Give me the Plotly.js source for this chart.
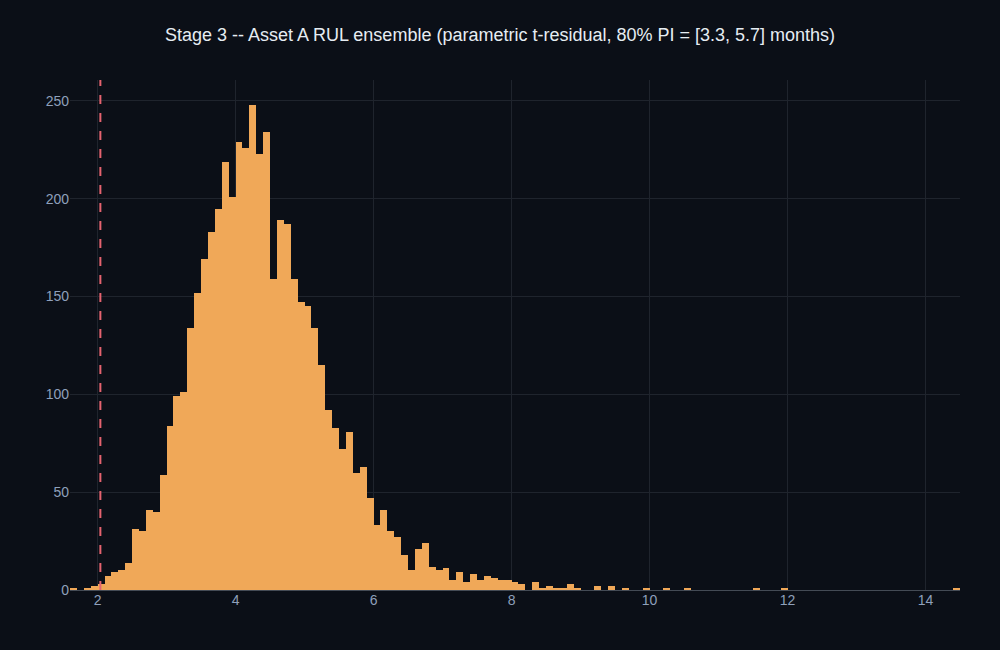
<!DOCTYPE html>
<html>
<head>
<meta charset="utf-8">
<script src="https://cdn.plot.ly/plotly-3.0.1.min.js"></script>
<style>
  html, body { margin: 0; padding: 0; background: #0b0f17; }
  #myDiv { width: 1000px; height: 650px; }
</style>
</head>
<body>
<div id="myDiv"></div>
<script>
// histogram counts, bins of 0.1 months starting at 1.6
var binStart = 1.6;
var binWidth = 0.1;
var counts = [
  1, 0, 1, 2, 3, 7, 9, 10, 14, 31,
  30, 41, 40, 59, 84, 99, 101, 134, 152, 169,
  183, 195, 219, 201, 229, 226, 248, 223, 234, 159,
  189, 187, 159, 147, 145, 134, 115, 92, 83, 72,
  81, 60, 63, 47, 33, 41, 30, 27, 18, 10,
  21, 24, 12, 10, 11, 5, 9, 4, 8, 5,
  7, 6, 5, 5, 4, 3, 0, 4, 1, 2,
  1, 1, 3, 1, 0, 0, 2, 0, 2, 0,
  1, 0, 0, 1
];
// sparse far tail (left edge of bin, count)
var tailBins = [10.2, 10.5, 11.5, 11.9, 14.4];
var tailCounts = [1, 1, 1, 1, 1];

var thresholdX = 2.04;

var x = [];
var y = [];
for (var i = 0; i < counts.length; i++) {
  x.push(binStart + i * binWidth + binWidth / 2);
  y.push(counts[i]);
}
for (var j = 0; j < tailBins.length; j++) {
  x.push(tailBins[j] + binWidth / 2);
  y.push(tailCounts[j]);
}

var trace = {
  x: x,
  y: y,
  type: 'bar',
  width: binWidth,
  marker: {
    color: '#f0a858',
    line: {width: 0}
  },
  hoverinfo: 'x+y'
};

var layout = {
  width: 1000,
  height: 650,
  paper_bgcolor: '#0b0f17',
  plot_bgcolor: '#0b0f17',
  font: {family: 'Liberation Sans, Arial, sans-serif', color: '#8fa0bb', size: 14},
  title: {
    text: 'Stage 3 -- Asset A RUL ensemble (parametric t-residual, 80% PI = [3.3, 5.7] months)',
    font: {size: 18, color: '#e6edf3'},
    x: 0.5,
    xanchor: 'center',
    y: 0.947,
    yanchor: 'middle'
  },
  margin: {l: 70, r: 40, t: 80, b: 60},
  showlegend: false,
  bargap: 0,
  xaxis: {
    range: [1.6, 14.5],
    tickvals: [2, 4, 6, 8, 10, 12, 14],
    gridcolor: '#1f242d',
    zeroline: false,
    showline: false,
    ticks: '',
    tickfont: {size: 14, color: '#8fa0bb'}
  },
  yaxis: {
    range: [0, 260.7],
    tickvals: [0, 50, 100, 150, 200, 250],
    gridcolor: '#1f242d',
    zeroline: true,
    zerolinecolor: '#444b55',
    zerolinewidth: 1,
    showline: false,
    ticks: '',
    tickfont: {size: 14, color: '#8fa0bb'}
  },
  shapes: [{
    type: 'line',
    xref: 'x',
    yref: 'paper',
    x0: thresholdX,
    x1: thresholdX,
    y0: 0,
    y1: 1,
    line: {color: '#e5636f', width: 2, dash: 'dash'}
  }]
};

Plotly.newPlot('myDiv', [trace], layout, {displayModeBar: false});
</script>
</body>
</html>
